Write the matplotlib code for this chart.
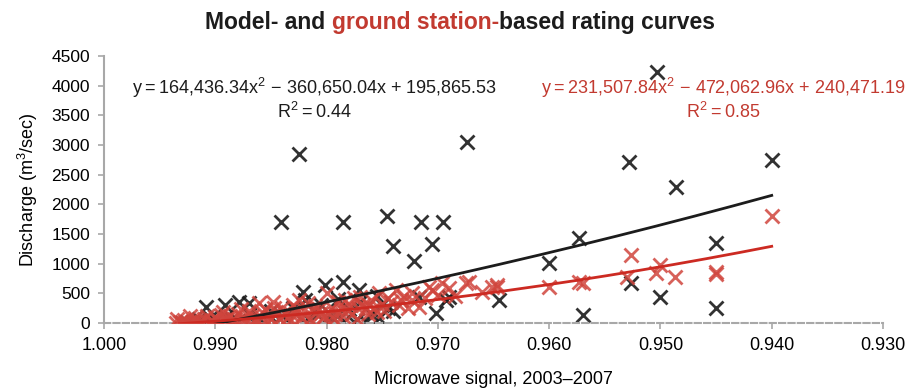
import numpy as np
import matplotlib
matplotlib.use("Agg")
import matplotlib.pyplot as plt
from matplotlib import font_manager

# ---------------- data ----------------
model_x = [0.9825, 0.9841, 0.9785, 0.9746, 0.9740, 0.9721, 0.9715, 0.9695, 0.9705, 0.9674,
           0.9702, 0.9645, 0.9600, 0.9573, 0.9570, 0.9526, 0.9500, 0.9486, 0.9450, 0.9450,
           0.9503, 0.9528, 0.9400, 0.9717, 0.9690, 0.9693,
           0.9908, 0.9891, 0.9879, 0.9870, 0.9821, 0.9801, 0.9785, 0.9771, 0.9773, 0.9753,
           0.9819, 0.9930, 0.9920, 0.9915, 0.9910, 0.9900, 0.9895, 0.9890, 0.9880, 0.9870,
           0.9860, 0.9850, 0.9845, 0.9840, 0.9830, 0.9820, 0.9810, 0.9805, 0.9800, 0.9790,
           0.9785, 0.9780, 0.9770, 0.9760, 0.9755, 0.9750, 0.9740, 0.9765, 0.9790, 0.9815,
           0.9925, 0.9905, 0.9885, 0.9865, 0.9835, 0.9795, 0.9775, 0.9745]
model_y = [2850, 1700, 1700, 1800, 1300, 1050, 1700, 1700, 1330, 3050,
           170, 390, 1010, 1430, 130, 680, 440, 2290, 1350, 250,
           4230, 2720, 2740, 440, 440, 390,
           270, 300, 350, 330, 520, 640, 690, 560, 50, 80,
           390, 0, 20, 60, 10, 40, 0, 100, 30, 150,
           60, 200, 20, 120, 250, 10, 180, 300, 80, 400,
           20, 230, 350, 150, 450, 300, 200, 20, 130, 40,
           10, 80, 60, 20, 40, 100, 10, 250]

station_x = [0.9935, 0.9930, 0.9928, 0.9925, 0.9920, 0.9918, 0.9915, 0.9910, 0.9905, 0.9900,
             0.9898, 0.9895, 0.9890, 0.9885, 0.9880, 0.9875, 0.9870, 0.9865, 0.9861, 0.9860,
             0.9855, 0.9850, 0.9848, 0.9845, 0.9840, 0.9835, 0.9830, 0.9828, 0.9825, 0.9820,
             0.9815, 0.9810, 0.9805, 0.9800, 0.9795, 0.9790, 0.9785, 0.9780, 0.9775, 0.9770,
             0.9765, 0.9760, 0.9755, 0.9753, 0.9750, 0.9745, 0.9738, 0.9735, 0.9730, 0.9723,
             0.9723, 0.9717, 0.9712, 0.9708, 0.9705, 0.9700, 0.9696, 0.9690, 0.9685, 0.9675,
             0.9672, 0.9660, 0.9651, 0.9647, 0.9647, 0.9600, 0.9573, 0.9570, 0.9526, 0.9530,
             0.9500, 0.9504, 0.9487, 0.9450, 0.9450, 0.9400,
             0.9932, 0.9922, 0.9912, 0.9902, 0.9892, 0.9882, 0.9872, 0.9862, 0.9852, 0.9842,
             0.9832, 0.9822, 0.9812, 0.9802, 0.9792, 0.9782, 0.9772, 0.9762,
             0.9934, 0.9927, 0.9923, 0.9917, 0.9913, 0.9907, 0.9903, 0.9897, 0.9893, 0.9887,
             0.9883, 0.9877, 0.9873, 0.9867, 0.9863, 0.9857, 0.9853, 0.9847, 0.9843, 0.9837,
             0.9833, 0.9827, 0.9823, 0.9817, 0.9813, 0.9807, 0.9803, 0.9797, 0.9793, 0.9787,
             0.9783, 0.9777, 0.9773, 0.9767, 0.9763, 0.9757, 0.9748, 0.9742, 0.9733, 0.9727]
station_y = [0, 20, 50, 5, 30, 80, 10, 60, 20, 100,
             40, 130, 70, 20, 160, 90, 200, 40, 340, 120,
             230, 60, 350, 180, 260, 100, 300, 150, 380, 220,
             60, 280, 170, 500, 250, 350, 120, 300, 420, 440,
             250, 380, 180, 500, 320, 420, 560, 300, 450, 500,
             390, 270, 420, 610, 560, 480, 670, 590, 450, 670,
             690, 520, 610, 640, 600, 610, 690, 680, 1150, 780,
             980, 840, 780, 860, 830, 1800,
             10, 0, 30, 10, 50, 20, 80, 30, 100, 60,
             150, 90, 200, 120, 160, 220, 260, 300,
             60, 0, 110, 40, 0, 120, 50, 10, 180, 120,
             60, 240, 0, 110, 60, 170, 20, 250, 90, 170,
             40, 240, 100, 330, 10, 230, 80, 150, 60, 240,
             380, 160, 60, 300, 150, 260, 200, 350, 380, 250]

# trend-line coefficients shown on the chart (a*x^2 + b*x + c)
model_coef = [164436.34, -360650.04, 195865.53]
station_coef = [231507.84, -472062.96, 240471.19]
model_r2 = 0.44
station_r2 = 0.85

x_ticks = [1.000, 0.990, 0.980, 0.970, 0.960, 0.950, 0.940, 0.930]
y_ticks = [0, 500, 1000, 1500, 2000, 2500, 3000, 3500, 4000, 4500]

# ---------------- style ----------------
avail = {f.name for f in font_manager.fontManager.ttflist}
base = "Liberation Sans" if "Liberation Sans" in avail else "DejaVu Sans"
narrow = "Liberation Sans Narrow" if "Liberation Sans Narrow" in avail else base
plt.rcParams['font.family'] = [base, 'DejaVu Sans']
plt.rcParams['mathtext.fontset'] = 'custom'
plt.rcParams['mathtext.rm'] = base
plt.rcParams['mathtext.it'] = base
plt.rcParams['mathtext.bf'] = base + ':bold'

BLACK = "#1c1c1c"
RED = "#c23a30"
RED_M = "#d0453d"
GRAY = "#a8a8a8"

fig = plt.figure(figsize=(9.18, 3.9), dpi=100)
ax = fig.add_axes([104/918, 1 - 323/390, (883-104)/918, (323-56)/390])

ax.plot(model_x, model_y, linestyle='none', marker='x', markersize=10,
        mew=2.0, color=BLACK, alpha=0.9, zorder=2)
ax.plot(station_x, station_y, linestyle='none', marker='x', markersize=10,
        mew=2.0, color=RED_M, alpha=0.85, zorder=3)

xs = np.linspace(min(model_x + station_x), max(model_x + station_x), 200)
ax.plot(xs, np.polyval(model_coef, xs), color=BLACK, lw=2.0, zorder=4)
ax.plot(xs, np.polyval(station_coef, xs), color="#cc2a22", lw=2.0, zorder=4)

ax.set_xlim(1.0, 0.93)
ax.set_ylim(0, 4500)
ax.set_xticks(x_ticks)
ax.set_xticklabels([f"{v:.3f}" for v in x_ticks], fontfamily=narrow, fontsize=13)
ax.set_yticks(y_ticks)
ax.set_yticklabels([str(v) for v in y_ticks], fontsize=12.5)

for s in ['top', 'right']:
    ax.spines[s].set_visible(False)
ax.spines['left'].set_color(GRAY)
ax.spines['left'].set_linewidth(1.5)
ax.spines['bottom'].set_color(GRAY)
ax.spines['bottom'].set_linewidth(1.5)
ax.spines['bottom'].set_linestyle((0, (3, 1.5)))
ax.tick_params(axis='both', colors=GRAY, labelcolor='black', length=4, width=1.2)
ax.tick_params(axis='x', pad=6)
ax.tick_params(axis='y', pad=6)
ax.patch.set_alpha(0)

ax.set_xlabel("Microwave signal, 2003\u20132007", fontfamily=narrow, fontsize=13, labelpad=12)
ax.set_ylabel("Discharge (m$^{3}$/sec)", fontsize=13, labelpad=8)

def fmt(v):
    return f"{abs(v):,.2f}"

def eq_text(c):
    return (f"y\u2009=\u2009{fmt(c[0])}x$^{{2}}$ \u2212 {fmt(c[1])}x + {fmt(c[2])}")

FS = 13
ax.text(0.270, 0.88, eq_text(model_coef), transform=ax.transAxes, ha='center',
        va='center', fontsize=FS, color=BLACK)
ax.text(0.270, 0.79, f"R$^{{2}}$\u2009=\u2009{model_r2:.2f}", transform=ax.transAxes, ha='center',
        va='center', fontsize=FS, color=BLACK)
ax.text(0.795, 0.88, eq_text(station_coef), transform=ax.transAxes, ha='center',
        va='center', fontsize=FS, color=RED)
ax.text(0.795, 0.79, f"R$^{{2}}$\u2009=\u2009{station_r2:.2f}", transform=ax.transAxes, ha='center',
        va='center', fontsize=FS, color=RED)

# multi-coloured title
parts = [("Model- and ", BLACK), ("ground station-", RED), ("based rating curves", BLACK)]
fig.canvas.draw()
r = fig.canvas.get_renderer()
texts = []
for s, c in parts:
    t = fig.text(0, 0, s, fontsize=16.5, fontweight='bold', color=c, va='baseline')
    texts.append(t)
widths = [t.get_window_extent(r).width for t in texts]
total = sum(widths)
cx = 460
x0 = cx - total / 2
for t, w in zip(texts, widths):
    t.set_position((x0 / 918, 1 - 29 / 390))
    x0 += w

fig.savefig("out.png", dpi=100)
